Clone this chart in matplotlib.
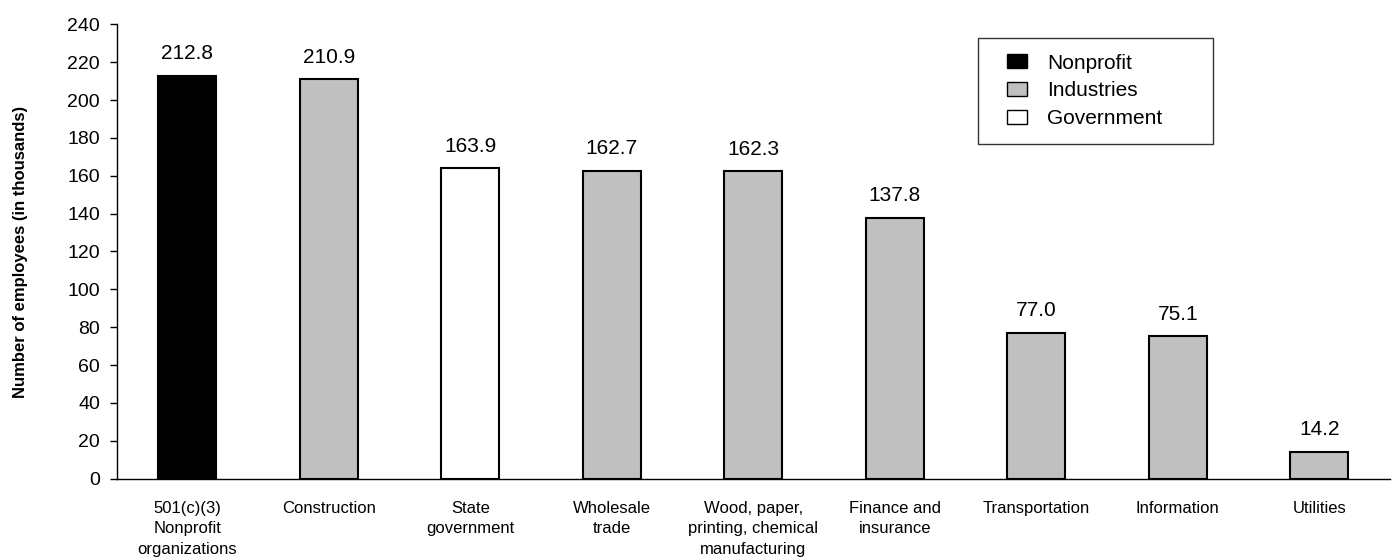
import matplotlib
matplotlib.use("Agg")
import matplotlib.pyplot as plt
from matplotlib.patches import Patch, Rectangle
from matplotlib.legend_handler import HandlerPatch

plt.rcParams['font.family'] = ['Liberation Sans', 'DejaVu Sans']

# -----------------------------
# data
# -----------------------------
categories = [
    "501(c)(3)\nNonprofit\norganizations",
    "Construction",
    "State\ngovernment",
    "Wholesale\ntrade",
    "Wood, paper,\nprinting, chemical\nmanufacturing",
    "Finance and\ninsurance",
    "Transportation",
    "Information",
    "Utilities",
]
employees = [212.8, 210.9, 163.9, 162.7, 162.3, 137.8, 77.0, 75.1, 14.2]
groups = ["Nonprofit", "Industries", "Government", "Industries", "Industries",
          "Industries", "Industries", "Industries", "Industries"]

group_names = ["Nonprofit", "Industries", "Government"]
group_colors = {"Nonprofit": "#000000", "Industries": "#C0C0C0", "Government": "#FFFFFF"}


# legend square, pushed to the right end of the handle slot
def square_handle(legend, orig_handle, xdescent, ydescent, width, height, fontsize):
    w, h = 14.4, 10.1
    return Rectangle((-xdescent + width - w, -ydescent + (height - h) / 2), w, h)


# -----------------------------
# plot
# -----------------------------
fig = plt.figure(figsize=(13.92, 5.59), dpi=100)
ax = fig.add_axes([0.0838, 0.1437, 0.9148, 0.8128])

x = range(len(categories))
colors = [group_colors[g] for g in groups]
bars = ax.bar(x, employees, width=0.41, color=colors, edgecolor="black", linewidth=1.5)

for rect, val in zip(bars, employees):
    ax.annotate(f"{val:.1f}", (rect.get_x() + rect.get_width() / 2, val),
                xytext=(0, 9), textcoords="offset points",
                ha="center", va="bottom", fontsize=15)

ax.set_xlim(-0.5, len(categories) - 0.5)
ax.set_ylim(0, 240)
ax.set_yticks(range(0, 241, 20))
ax.set_xticks(list(x))
ax.set_xticklabels(categories, fontsize=12, linespacing=1.45)
ax.tick_params(axis="x", length=0, pad=16)
ax.tick_params(axis="y", length=5, width=1, labelsize=14, pad=7)

ax.spines["top"].set_visible(False)
ax.spines["right"].set_visible(False)
ax.spines["left"].set_linewidth(1)
ax.spines["bottom"].set_linewidth(1)

fig.text(21 / 1392, 0.55, "Number of employees (in thousands)", rotation=90,
         ha="center", va="center", fontsize=12, fontweight="bold")

handles = [Patch(facecolor=group_colors[g], edgecolor="black", linewidth=1) for g in group_names]
leg = fig.legend(handles, group_names, loc="upper left",
                 bbox_to_anchor=(978 / 1392, 1 - 141 / 559, 235 / 1392, 103 / 559),
                 mode="expand", fontsize=15, frameon=True, fancybox=False,
                 edgecolor="black", handlelength=1.58, handleheight=0.7,
                 handletextpad=1.0, labelspacing=0.42, borderpad=0.75, borderaxespad=0,
                 handler_map={Patch: HandlerPatch(patch_func=square_handle)})
leg.get_frame().set_linewidth(1)

plt.savefig("out.png", dpi=100)
